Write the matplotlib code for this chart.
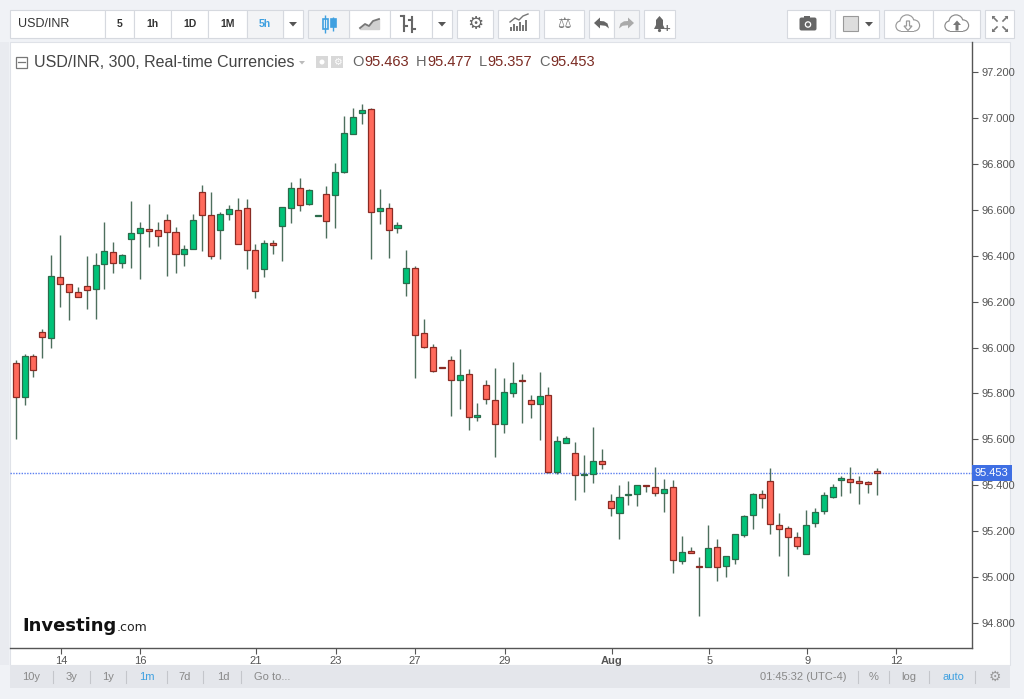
import matplotlib
matplotlib.use("Agg")
import matplotlib.pyplot as plt
from matplotlib.patches import Rectangle, Circle, Polygon, FancyBboxPatch
import numpy as np

# USD/INR 5h candles
opens = [95.934, 95.786, 95.963, 96.068, 96.043, 96.309, 96.275, 96.243, 96.268, 96.255,
         96.363, 96.415, 96.367, 96.471, 96.498, 96.515, 96.511, 96.555, 96.503, 96.406,
         96.430, 96.677, 96.577, 96.511, 96.580, 96.598, 96.606, 96.426, 96.343, 96.457,
         96.531, 96.606, 96.694, 96.624, 96.573, 96.669, 96.664, 96.765, 96.931, 97.020,
         97.040, 96.593, 96.606, 96.519, 96.280, 96.345, 96.063, 96.001, 95.914, 95.946,
         95.859, 95.883, 95.696, 95.838, 95.772, 95.666, 95.801, 95.855, 95.771, 95.754,
         95.792, 95.458, 95.586, 95.542, 95.445, 95.448, 95.505, 95.333, 95.278, 95.357,
         95.362, 95.398, 95.394, 95.365, 95.391, 95.070, 95.111, 95.049, 95.044, 95.133,
         95.049, 95.078, 95.182, 95.269, 95.362, 95.417, 95.227, 95.213, 95.174, 95.102,
         95.235, 95.287, 95.350, 95.424, 95.429, 95.417, 95.413, 95.463]
highs = [95.946, 95.971, 95.973, 96.081, 96.402, 96.490, 96.278, 96.265, 96.399, 96.410,
         96.545, 96.458, 96.408, 96.638, 96.548, 96.625, 96.548, 96.580, 96.524, 96.448,
         96.583, 96.708, 96.679, 96.590, 96.622, 96.650, 96.646, 96.451, 96.468, 96.467,
         96.613, 96.720, 96.737, 96.689, 96.575, 96.704, 96.802, 97.008, 97.042, 97.059,
         97.045, 96.689, 96.628, 96.545, 96.424, 96.356, 96.124, 96.015, 95.915, 95.964,
         95.992, 95.905, 95.760, 95.860, 95.910, 95.869, 95.935, 95.884, 95.793, 95.893,
         95.827, 95.614, 95.613, 95.588, 95.530, 95.655, 95.559, 95.362, 95.400, 95.417,
         95.402, 95.398, 95.478, 95.429, 95.424, 95.179, 95.130, 95.086, 95.228, 95.165,
         95.092, 95.189, 95.269, 95.365, 95.380, 95.475, 95.279, 95.224, 95.197, 95.293,
         95.300, 95.371, 95.406, 95.441, 95.480, 95.442, 95.420, 95.477]
lows = [95.600, 95.748, 95.873, 95.953, 95.999, 96.178, 96.120, 96.218, 96.169, 96.126,
        96.254, 96.325, 96.345, 96.345, 96.299, 96.438, 96.442, 96.313, 96.326, 96.354,
        96.428, 96.419, 96.386, 96.387, 96.555, 96.450, 96.342, 96.217, 96.306, 96.406,
        96.376, 96.544, 96.596, 96.619, 96.571, 96.478, 96.522, 96.762, 96.929, 96.972,
        96.384, 96.538, 96.391, 96.500, 96.224, 95.866, 95.997, 95.895, 95.911, 95.702,
        95.732, 95.641, 95.681, 95.753, 95.523, 95.628, 95.786, 95.670, 95.691, 95.597,
        95.455, 95.448, 95.582, 95.336, 95.369, 95.411, 95.470, 95.266, 95.165, 95.314,
        95.311, 95.370, 95.353, 95.282, 95.019, 95.057, 95.105, 94.831, 95.042, 94.982,
        95.002, 95.056, 95.176, 95.210, 95.303, 95.187, 95.093, 95.006, 95.124, 95.100,
        95.220, 95.274, 95.343, 95.353, 95.368, 95.317, 95.368, 95.357]
closes = [95.783, 95.963, 95.903, 96.046, 96.310, 96.275, 96.242, 96.221, 96.251, 96.359,
          96.420, 96.367, 96.402, 96.498, 96.519, 96.509, 96.486, 96.502, 96.406, 96.430,
          96.555, 96.576, 96.397, 96.582, 96.602, 96.452, 96.426, 96.245, 96.457, 96.447,
          96.611, 96.694, 96.619, 96.685, 96.573, 96.551, 96.765, 96.936, 97.003, 97.033,
          96.589, 96.606, 96.513, 96.535, 96.345, 96.055, 96.001, 95.899, 95.912, 95.859,
          95.879, 95.696, 95.705, 95.775, 95.666, 95.805, 95.847, 95.853, 95.754, 95.788,
          95.458, 95.592, 95.605, 95.444, 95.449, 95.505, 95.492, 95.303, 95.349, 95.362,
          95.400, 95.396, 95.365, 95.385, 95.073, 95.111, 95.107, 95.044, 95.128, 95.044,
          95.091, 95.188, 95.266, 95.362, 95.345, 95.233, 95.211, 95.174, 95.136, 95.228,
          95.282, 95.357, 95.394, 95.433, 95.416, 95.409, 95.404, 95.453]

date_ticks = [5.10, 14.0, 27.05, 36.04, 44.97, 55.1, 67.15, 78.1, 89.14, 99.13]
date_labels = ["14", "16", "21", "23", "27", "29", "Aug", "5", "9", "12"]
price_ticks = [94.8, 95.0, 95.2, 95.4, 95.6, 95.8, 96.0, 96.2, 96.4, 96.6, 96.8, 97.0, 97.2]
last_price = 95.453
header_ohlc = [("O", "95.463"), ("H", "95.477"), ("L", "95.357"), ("C", "95.453")]

W, H = 1024, 699
fig = plt.figure(figsize=(W / 100, H / 100), dpi=100)
fig.patch.set_facecolor("#f0f2f6")
plt.rcParams["font.family"] = ["Liberation Sans", "DejaVu Sans"]

# full-figure overlay in pixel coords for the widget chrome
ui = fig.add_axes([0, 0, 1, 1], zorder=0)
ui.set_xlim(0, W)
ui.set_ylim(H, 0)
ui.axis("off")

ui.add_patch(Rectangle((10, 42), 1000, 623, fc="white", ec="#dfe2e8", lw=0.8))
ui.add_patch(Rectangle((10, 665), 1000, 23, fc="#e4e6eb", ec="none"))
ui.add_patch(Rectangle((0, 42), 9, 623, fc="#e9ebf0", ec="none"))

grey_txt = "#888888"
blue_txt = "#3fa0e0"
icon = "#666666"


def button(x0, x1, bg="white"):
    ui.add_patch(Rectangle((x0, 9.5), x1 - x0, 28, fc=bg, ec="#d6d9df", lw=0.8))


def cloud(cx, cy, col):
    # outline made of grey circles covered by slightly smaller white ones
    parts = [(cx - 7, cy + 2, 4.5), (cx - 1, cy - 2, 6.5), (cx + 6, cy + 1.5, 5)]
    for px, py, r in parts:
        ui.add_patch(Circle((px, py), r + 1.2, fc=col, ec="none"))
    ui.add_patch(Rectangle((cx - 7, cy + 1), 13, 6.7, fc=col, ec="none"))
    for px, py, r in parts:
        ui.add_patch(Circle((px, py), r, fc="white", ec="none"))
    ui.add_patch(Rectangle((cx - 7, cy + 1), 13, 5.5, fc="white", ec="none"))


# top toolbar
for x0, x1 in [(10, 105), (105, 134), (134, 171), (171, 208), (208, 247), (283, 303),
               (349, 390), (390, 432), (432, 452), (457, 493), (498, 539), (544, 584),
               (589, 614), (644, 675), (787, 830), (835, 879), (884, 933), (933, 980),
               (985, 1014)]:
    button(x0, x1)
button(247, 283, "#f3f4f6")
button(308, 349, "#f3f4f6")
button(614, 639, "#f3f4f6")

ui.text(18, 24, "USD/INR", fontsize=9, color="#333333", va="center")
for xc, lab in [(119.5, "5"), (152.5, "1h"), (189.5, "1D"), (227.5, "1M")]:
    ui.text(xc, 24, lab, fontsize=7.5, color="#333333", va="center", ha="center",
            fontweight="bold")
ui.text(265, 24, "5h", fontsize=7.5, color=blue_txt, va="center", ha="center",
        fontweight="bold")
for xc in [293, 442, 869]:
    ui.add_patch(Polygon([[xc - 4, 22], [xc + 4, 22], [xc, 26.5]], fc="#555555"))

# candle icon
ui.vlines([325, 333], [15, 17], [33, 31], color=blue_txt, lw=1)
ui.add_patch(Rectangle((322.5, 19), 5, 10, fc="white", ec=blue_txt, lw=1.2))
ui.add_patch(Rectangle((330.5, 19), 5, 8, fc=blue_txt, ec=blue_txt, lw=1.2))
# line icon
ui.fill_between([360, 365, 369, 373, 379], [28, 24, 26, 21, 19], 29, color="#d0d0d0")
ui.plot([360, 365, 369, 373, 379], [28, 24, 26, 21, 19], color="#777777", lw=1.3)
# bar icon
for bx, yt, yb, yo, yc in [(404, 16, 31, 16, 26), (412, 17, 32, 20, 29)]:
    ui.plot([bx, bx], [yt, yb], color=icon, lw=1.5)
    ui.plot([bx - 3, bx], [yo, yo], color=icon, lw=1.5)
    ui.plot([bx, bx + 3], [yc, yc], color=icon, lw=1.5)
ui.text(475, 24, "\u2699", fontsize=13, color=icon, ha="center", va="center",
        family="DejaVu Sans")
# indicators icon
ui.bar([511, 514, 517, 520, 523, 526], [-4, -7, -5, -9, -6, -11], bottom=31, width=2,
       color="#777777")
ui.plot([510, 515, 519, 523, 528], [22, 18, 20, 16, 14], color="#777777", lw=1)
ui.text(564, 24, "\u2696", fontsize=11, color="#777777", ha="center", va="center",
        family="DejaVu Sans")
# undo / redo arrows
undo = [[594, 23], [600, 17.5], [600, 21], [604, 21.3], [607.5, 23.5], [609, 28.5],
        [605.5, 25.8], [600, 25.2], [600, 28.5]]
ui.add_patch(Polygon(undo, fc=icon, ec="none"))
ui.add_patch(Polygon([[1228 - px, py] for px, py in undo], fc="#aaaaaa", ec="none"))
# alert bell
ui.add_patch(Polygon([[654, 29], [656, 25], [656, 20], [659.5, 16], [663, 20], [663, 25],
                      [665, 29]], fc=icon))
ui.add_patch(Circle((659.5, 30.5), 1.6, fc=icon))
ui.text(667, 29, "+", fontsize=8, color=icon, ha="center", va="center",
        fontweight="bold")
# camera
ui.add_patch(FancyBboxPatch((800, 18), 16, 12, boxstyle="round,pad=0.5,rounding_size=2",
                            fc=icon, ec="none"))
ui.add_patch(Rectangle((804, 16), 6, 3, fc=icon))
ui.add_patch(Circle((808, 24.5), 3.3, fc="white"))
ui.add_patch(Circle((808, 24.5), 2, fc=icon))
# colour box
ui.add_patch(Rectangle((843, 16), 15, 15, fc="#dddddd", ec="#999999", lw=0.8))
# clouds with arrows
cloud(908, 24, "#9a9a9a")
ui.add_patch(Polygon([[906.5, 21], [909.5, 21], [909.5, 26], [912, 26], [908, 30.5],
                      [904, 26], [906.5, 26]], fc="white", ec="#9a9a9a", lw=0.9))
cloud(957, 24, "#8a8a8a")
ui.add_patch(Polygon([[955.5, 30.5], [958.5, 30.5], [958.5, 25], [961, 25], [957, 20.5],
                      [953, 25], [955.5, 25]], fc="#777777", ec="none"))
# fullscreen
for sx, sy in [(-1, -1), (1, -1), (-1, 1), (1, 1)]:
    ui.plot([1000 + sx * 3, 1000 + sx * 7], [24 + sy * 3, 24 + sy * 7], color="#777777",
            lw=1.2)
    ui.add_patch(Polygon([[1000 + sx * 8, 24 + sy * 8], [1000 + sx * 4.5, 24 + sy * 8],
                          [1000 + sx * 8, 24 + sy * 4.5]], fc="#777777"))

# chart header
ui.add_patch(Rectangle((15.5, 56.5), 11, 11, fc="none", ec="#777777", lw=0.9))
ui.plot([18, 24.5], [62, 62], color="#777777", lw=0.9)
ui.text(34, 62.5, "USD/INR, 300, Real-time Currencies", fontsize=11.5, color="#444444",
        va="center")
ui.add_patch(Polygon([[299, 61], [305, 61], [302, 64.5]], fc="#bbbbbb"))
ui.add_patch(Rectangle((316, 56), 12, 12, fc="#d8d8d8", ec="none"))
ui.add_patch(Circle((322, 62), 2.5, fc="white"))
ui.add_patch(Rectangle((331, 56), 12, 12, fc="#d8d8d8", ec="none"))
ui.text(337, 62, "\u2699", fontsize=7, color="white", ha="center", va="center",
        family="DejaVu Sans")
prev = None
for letter, val in header_ohlc:
    if prev is None:
        t = ui.text(352, 62.5, letter, fontsize=10.5, color="#666666", va="center")
    else:
        t = ui.annotate(letter, xy=(1, 0.5), xycoords=prev, xytext=(5, 0),
                        textcoords="offset points", fontsize=10.5, color="#666666",
                        va="center", ha="left")
    prev = ui.annotate(val, xy=(1, 0.5), xycoords=t, xytext=(0.6, 0),
                       textcoords="offset points", fontsize=10.5, color="#7a2a22",
                       va="center", ha="left")

# logo
logo = ui.text(22, 626, "Investing", fontsize=13, color="#111111", va="center",
               fontweight="bold", family="DejaVu Sans")
ui.annotate(".com", xy=(1, 0.22), xycoords=logo, xytext=(0.5, 0),
            textcoords="offset points", fontsize=9, color="#222222", va="baseline",
            ha="left", family="DejaVu Sans")

# bottom toolbar
for xc, lab, col in [(31, "10y", grey_txt), (72, "3y", grey_txt), (108, "1y", grey_txt),
                     (147, "1m", blue_txt), (185, "7d", grey_txt), (223, "1d", grey_txt)]:
    ui.text(xc, 677, lab, fontsize=8, color=col, ha="center", va="center")
ui.text(254, 677, "Go to...", fontsize=8, color=grey_txt, va="center")
ui.text(760, 677, "01:45:32 (UTC-4)", fontsize=8, color=grey_txt, va="center")
ui.text(874, 677, "%", fontsize=8, color=grey_txt, ha="center", va="center")
ui.text(909, 677, "log", fontsize=8, color=grey_txt, ha="center", va="center")
ui.text(953, 677, "auto", fontsize=8, color=blue_txt, ha="center", va="center")
ui.text(995, 677, "\u2699", fontsize=10, color="#999999", ha="center", va="center",
        family="DejaVu Sans")
for xs in [53, 90, 126, 167, 203, 241, 858, 889, 929, 975]:
    ui.plot([xs, xs], [671, 683], color="#c4c6cb", lw=0.8)

# price chart
ax = fig.add_axes([10 / W, 1 - 648 / H, 962 / W, 606 / H], zorder=1)
ax.patch.set_visible(False)
x = np.arange(len(opens))
o = np.array(opens)
c = np.array(closes)
up = c >= o
ax.vlines(x, lows, highs, color="#4d6f5d", lw=1, zorder=2)
bottoms = np.minimum(o, c)
heights = np.maximum(np.abs(c - o), 0.005)
ax.bar(x[up], heights[up], bottom=bottoms[up], width=0.68, color="#00c278",
       edgecolor="#2b6b4b", lw=0.9, zorder=3)
ax.bar(x[~up], heights[~up], bottom=bottoms[~up], width=0.68, color="#ff6a5c",
       edgecolor="#8a2b24", lw=0.9, zorder=3)

ax.axhline(last_price, color="#5b7ff0", lw=1, ls=(0, (1, 1)), zorder=1)
ax.text(1.003, last_price, f"{last_price:.3f}", transform=ax.get_yaxis_transform(),
        ha="left", va="center", fontsize=8, color="white",
        bbox=dict(boxstyle="square,pad=0.3", fc="#3f6fe3", ec="none"))

ax.set_xlim(-0.64, 107.7)
ax.set_ylim(94.691, 97.331)
for side in ["left", "top"]:
    ax.spines[side].set_visible(False)
for side in ["right", "bottom"]:
    ax.spines[side].set_color("#555555")
    ax.spines[side].set_linewidth(1)
ax.yaxis.tick_right()
ax.set_yticks(price_ticks)
ax.set_yticklabels([f"{p:.3f}" for p in price_ticks])
ax.set_xticks(date_ticks)
ax.set_xticklabels(date_labels)
for lab in ax.get_xticklabels():
    if lab.get_text() == "Aug":
        lab.set_fontweight("bold")
ax.tick_params(axis="y", length=4, color="#555555", labelcolor="#555555", labelsize=8,
               pad=3)
ax.tick_params(axis="x", length=4, color="#555555", labelcolor="#555555", labelsize=8,
               pad=2)

fig.savefig("out.png", dpi=100, facecolor=fig.get_facecolor())
